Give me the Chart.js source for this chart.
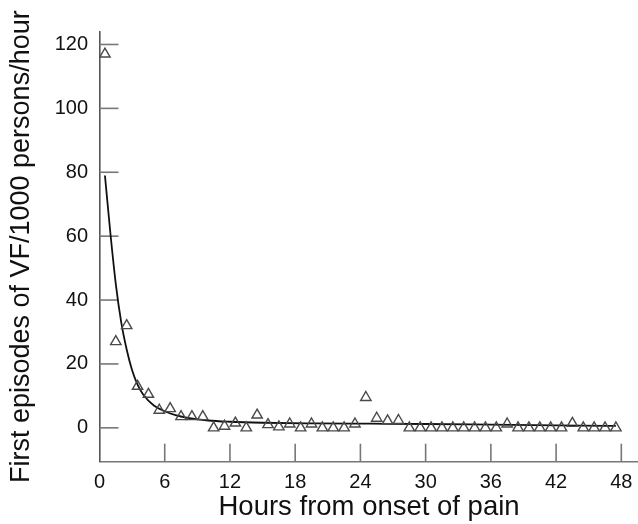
<!DOCTYPE html>
<html>
<head>
<meta charset="utf-8">
<script src="https://cdn.jsdelivr.net/npm/chart.js@4/dist/chart.umd.min.js"></script>
<style>
  html, body { margin: 0; padding: 0; background: #fff; overflow: hidden; }
  #wrap { width: 638px; height: 524px; position: relative; overflow: hidden; }
  #c { position: absolute; left: 0; top: 0; }
</style>
</head>
<body>
<div id="wrap"><canvas id="c" width="646" height="524"></canvas></div>
<script>
// Observed hourly rates (triangles), at mid-hour positions
const hours = [0.5, 1.5, 2.5, 3.5, 4.5, 5.5, 6.5, 7.5, 8.5, 9.5,
  10.5, 11.5, 12.5, 13.5, 14.5, 15.5, 16.5, 17.5, 18.5, 19.5,
  20.5, 21.5, 22.5, 23.5, 24.5, 25.5, 26.5, 27.5, 28.5, 29.5,
  30.5, 31.5, 32.5, 33.5, 34.5, 35.5, 36.5, 37.5, 38.5, 39.5,
  40.5, 41.5, 42.5, 43.5, 44.5, 45.5, 46.5, 47.5];
const vfRate = [117, 27, 32, 13, 10.5, 5.5, 6, 3.5, 3.5, 3.5,
  0, 0.5, 1.5, 0, 4, 1, 0.3, 1.2, 0, 1.2,
  0, 0, 0, 1.2, 9.5, 3, 2.2, 2.3, 0, 0,
  0, 0, 0, 0, 0, 0, 0, 1.2, 0, 0,
  0, 0, 0, 1.4, 0, 0, 0, 0];

// Fitted curve
const fitHours  = [0.5, 1, 1.5, 2, 2.5, 3, 3.5, 4, 5, 6, 7, 8, 10, 12, 15, 20, 25, 30, 36, 42, 47.5];
const fitValues = [79, 61, 45, 33, 24.5, 18, 13.5, 10.5, 7, 5.2, 4, 3.2, 2.3, 1.9, 1.6, 1.4, 1.3, 1.2, 1.0, 0.8, 0.6];

// Axis ticks
const xTicks = [0, 6, 12, 18, 24, 30, 36, 42, 48];
const yTicks = [0, 20, 40, 60, 80, 100, 120];

const xTitle = 'Hours from onset of pain';
const yTitle = 'First episodes of VF/1000 persons/hour';

const FONT = "'Liberation Sans', Arial, Helvetica, sans-serif";

const innerTicks = {
  id: 'innerTicks',
  beforeDatasetsDraw(chart) {
    const ctx = chart.ctx;
    const xs = chart.scales.x, ys = chart.scales.y;
    const a = chart.chartArea;
    ctx.save();
    ctx.strokeStyle = '#777';
    ctx.lineWidth = 1.6;
    yTicks.forEach(v => {
      const py = ys.getPixelForValue(v);
      ctx.beginPath();
      ctx.moveTo(a.left, py);
      ctx.lineTo(a.left + 19, py);
      ctx.stroke();
    });
    xTicks.forEach(v => {
      if (v === 0) return;
      const px = xs.getPixelForValue(v);
      ctx.beginPath();
      ctx.moveTo(px, a.bottom);
      ctx.lineTo(px, a.bottom - 18);
      ctx.stroke();
    });
    ctx.restore();
  }
};

new Chart(document.getElementById('c'), {
  type: 'scatter',
  data: {
    datasets: [
      {
        label: 'Observed',
        data: hours.map((h, i) => ({ x: h, y: vfRate[i] })),
        pointStyle: 'triangle',
        pointRadius: 6,
        pointBorderWidth: 1.4,
        pointBorderColor: '#4a4a4a',
        pointBackgroundColor: 'rgba(255,255,255,0)',
        showLine: false,
        order: 1
      },
      {
        label: 'Fit',
        type: 'line',
        data: fitHours.map((h, i) => ({ x: h, y: fitValues[i] })),
        borderColor: '#111',
        borderWidth: 1.8,
        pointRadius: 0,
        fill: false,
        cubicInterpolationMode: 'monotone',
        order: 2
      }
    ]
  },
  options: {
    responsive: false,
    animation: false,
    layout: { padding: { top: 31.7, right: 0, left: 0, bottom: 0 } },
    plugins: {
      legend: { display: false },
      tooltip: { enabled: false }
    },
    scales: {
      x: {
        type: 'linear',
        min: 0,
        max: 49.59,
        afterBuildTicks: s => { s.ticks = xTicks.map(v => ({ value: v })); },
        afterFit: s => { s.height = 62.3; },
        grid: { display: false, drawTicks: false, tickLength: 0 },
        border: { display: true, color: '#777', width: 1.6 },
        ticks: {
          padding: 9,
          color: '#111',
          font: { family: FONT, size: 20 },
          maxRotation: 0,
          autoSkip: false
        },
        title: {
          display: true,
          text: xTitle,
          color: '#111',
          font: { family: FONT, size: 27.5 },
          padding: { top: 0, bottom: 0 }
        }
      },
      y: {
        type: 'linear',
        min: -10.6,
        max: 124,
        afterBuildTicks: s => { s.ticks = yTicks.map(v => ({ value: v })); },
        afterFit: s => { s.width = 99.5; },
        grid: { display: false, drawTicks: false, tickLength: 0 },
        border: { display: true, color: '#555', width: 1.6 },
        ticks: {
          padding: 11.5,
          color: '#111',
          font: { family: FONT, size: 20 },
          autoSkip: false
        },
        title: {
          display: true,
          text: yTitle,
          color: '#111',
          font: { family: FONT, size: 27 },
          padding: { top: 5, bottom: 0 }
        }
      }
    }
  },
  plugins: [innerTicks]
});
</script>
</body>
</html>
